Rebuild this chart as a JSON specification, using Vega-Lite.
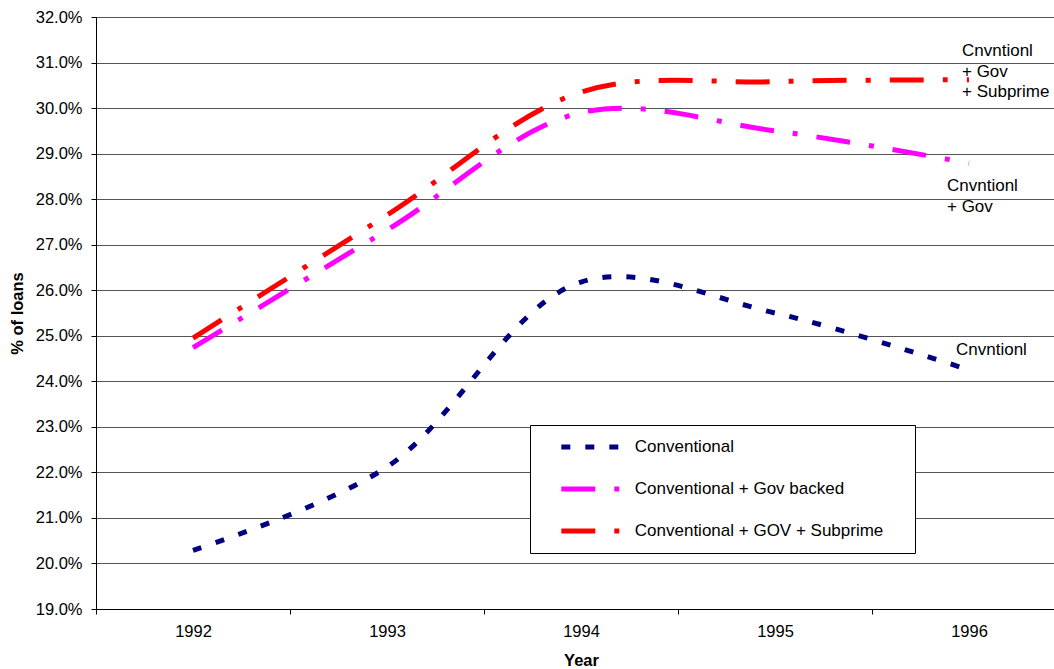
{
  "$schema": "https://vega.github.io/schema/vega-lite/v6.json",
  "width": 958,
  "height": 592,
  "autosize": "none",
  "padding": {"left": 96, "top": 17, "right": 0, "bottom": 60},
  "background": "white",
  "config": {
    "view": {"stroke": null},
    "font": "Liberation Sans"
  },
  "data": {
    "values": [
      {"year": "1992", "series": "Conventional", "v": 0.2029},
      {"year": "1993", "series": "Conventional", "v": 0.2212},
      {"year": "1994", "series": "Conventional", "v": 0.2618},
      {"year": "1995", "series": "Conventional", "v": 0.2550},
      {"year": "1996", "series": "Conventional", "v": 0.2425},
      {"year": "1992", "series": "Conventional + Gov backed", "v": 0.2474},
      {"year": "1993", "series": "Conventional + Gov backed", "v": 0.2732},
      {"year": "1994", "series": "Conventional + Gov backed", "v": 0.2990},
      {"year": "1995", "series": "Conventional + Gov backed", "v": 0.2950},
      {"year": "1996", "series": "Conventional + Gov backed", "v": 0.2879},
      {"year": "1992", "series": "Conventional + GOV + Subprime", "v": 0.2495},
      {"year": "1993", "series": "Conventional + GOV + Subprime", "v": 0.2765},
      {"year": "1994", "series": "Conventional + GOV + Subprime", "v": 0.3035},
      {"year": "1995", "series": "Conventional + GOV + Subprime", "v": 0.3058},
      {"year": "1996", "series": "Conventional + GOV + Subprime", "v": 0.3062}
    ]
  },
  "encoding": {
    "x": {
      "field": "year", "type": "ordinal",
      "scale": {"type": "band", "range": [0, 970], "paddingInner": 0, "paddingOuter": 0},
      "axis": {
        "title": "Year", "labelAngle": 0, "tickBand": "extent", "grid": false,
        "domainColor": "black", "domainWidth": 1, "tickColor": "black", "tickSize": 5,
        "labelFont": "Liberation Sans", "labelFontSize": 16.5, "labelColor": "black", "labelPadding": 9,
        "titleFont": "Liberation Sans", "titleFontSize": 16.5, "titleFontWeight": "bold", "titleColor": "black", "titlePadding": 13
      }
    },
    "y": {
      "field": "v", "type": "quantitative",
      "scale": {"domain": [0.19, 0.32], "nice": false, "zero": false},
      "axis": {
        "title": "% of loans", "format": ".1%",
        "values": [0.19, 0.20, 0.21, 0.22, 0.23, 0.24, 0.25, 0.26, 0.27, 0.28, 0.29, 0.30, 0.31, 0.32],
        "grid": true, "gridColor": "#555555", "gridWidth": 1,
        "domainColor": "black", "domainWidth": 1, "tickColor": "black", "tickSize": 5,
        "labelFont": "Liberation Sans", "labelFontSize": 16.5, "labelColor": "black", "labelPadding": 9,
        "titleFont": "Liberation Sans", "titleFontSize": 16.5, "titleFontWeight": "bold", "titleColor": "black", "titlePadding": 10
      }
    }
  },
  "layer": [
    {
      "mark": {"type": "line", "interpolate": "catmull-rom", "strokeWidth": 5, "strokeCap": "butt"},
      "encoding": {
        "color": {
          "field": "series", "type": "nominal",
          "scale": {
            "domain": ["Conventional", "Conventional + Gov backed", "Conventional + GOV + Subprime"],
            "range": ["#000080", "#FF00FF", "#FF0000"]
          },
          "legend": {
            "title": null, "orient": "none", "legendX": 434, "legendY": 408,
            "fillColor": "white", "strokeColor": "black", "padding": 3,
            "symbolType": "stroke", "symbolSize": 3364, "symbolStrokeWidth": 5,
            "clipHeight": 38, "rowPadding": 4, "symbolOffset": 25.8, "labelOffset": 13,
            "labelFont": "Liberation Sans", "labelFontSize": 17, "labelColor": "black",
            "labelLimit": 0,
            "labelExpr": "datum.label + '      \u200b'"
          }
        },
        "strokeDash": {
          "field": "series", "type": "nominal",
          "scale": {
            "domain": ["Conventional", "Conventional + Gov backed", "Conventional + GOV + Subprime"],
            "range": [[9, 15], [34, 19, 5, 19], [34, 19, 5, 19]]
          },
          "legend": {
            "title": null, "orient": "none", "legendX": 434, "legendY": 408,
            "fillColor": "white", "strokeColor": "black", "padding": 3,
            "symbolType": "stroke", "symbolSize": 3364, "symbolStrokeWidth": 5,
            "clipHeight": 38, "rowPadding": 4, "symbolOffset": 25.8, "labelOffset": 13,
            "labelFont": "Liberation Sans", "labelFontSize": 17, "labelColor": "black",
            "labelLimit": 0,
            "labelExpr": "datum.label + '      \u200b'"
          }
        }
      }
    },
    {
      "transform": [{"filter": "datum.series == 'Conventional + GOV + Subprime' && datum.year == '1996'"}],
      "mark": {"type": "text", "text": ["Cnvntionl", "+ Gov", "+ Subprime"], "align": "left", "baseline": "top",
               "dx": -7, "dy": -36.5, "font": "Liberation Sans", "fontSize": 17, "lineHeight": 20.5, "color": "black"}
    },
    {
      "transform": [{"filter": "datum.series == 'Conventional + Gov backed' && datum.year == '1996'"}],
      "mark": {"type": "text", "text": ["Cnvntionl", "+ Gov"], "align": "left", "baseline": "top",
               "dx": -22, "dy": 15.1, "font": "Liberation Sans", "fontSize": 17, "lineHeight": 20.5, "color": "black"}
    },
    {
      "transform": [{"filter": "datum.series == 'Conventional' && datum.year == '1996'"}],
      "mark": {"type": "text", "text": "Cnvntionl", "align": "left", "baseline": "top",
               "dx": -13, "dy": -28.3, "font": "Liberation Sans", "fontSize": 17, "color": "black"}
    }
  ]
}
